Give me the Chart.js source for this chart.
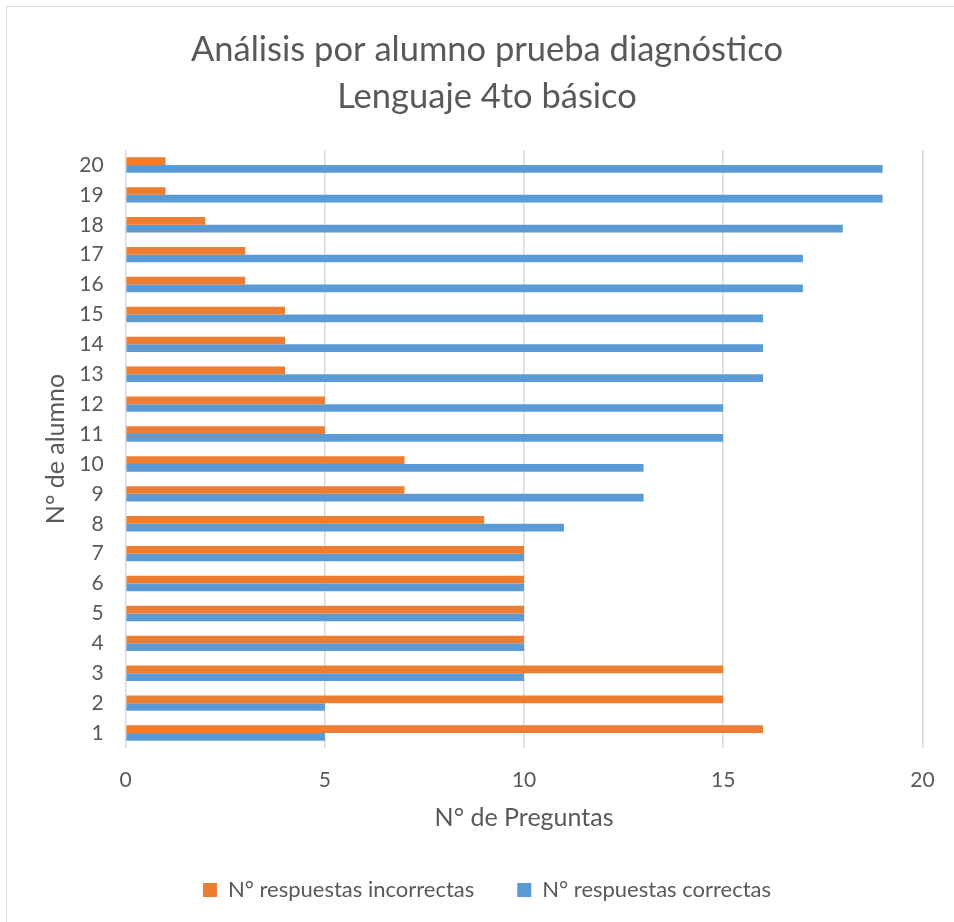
<!DOCTYPE html>
<html>
<head>
<meta charset="utf-8">
<script src="https://cdn.jsdelivr.net/npm/chart.js@4"></script>
<style>
  html, body { margin: 0; padding: 0; background: #ffffff; }
  #wrap { position: relative; width: 954px; height: 922px; overflow: hidden; }
  #frame { position: absolute; left: 6px; top: 6px; width: 980px; height: 960px;
           border-left: 1px solid #D9D9D9; border-top: 1px solid #D9D9D9; box-sizing: border-box; }
  canvas { position: absolute; left: 0; top: 0; }
</style>
</head>
<body>
<div id="wrap">
  <div id="frame"></div>
  <canvas id="chart" width="954" height="922"></canvas>
</div>
<script>
// Student numbers (y categories) and the answer counts per student
const alumnos = ['1','2','3','4','5','6','7','8','9','10','11','12','13','14','15','16','17','18','19','20'];
const incorrectas = [16, 15, 15, 10, 10, 10, 10, 9, 7, 7, 5, 5, 4, 4, 4, 3, 3, 2, 1, 1];
const correctas   = [5, 5, 10, 10, 10, 10, 10, 11, 13, 13, 15, 15, 16, 16, 16, 17, 17, 18, 19, 19];

const seriesNames = ['N° respuestas incorrectas', 'N° respuestas correctas'];
const titleLines = ['Análisis por alumno prueba diagnóstico', 'Lenguaje 4to básico'];
const xTitle = 'N° de Preguntas';
const yTitle = 'N° de alumno';

const TEXT = '#595959';
const FONT = 'Lato, "Noto Sans", sans-serif';

new Chart(document.getElementById('chart'), {
  type: 'bar',
  data: {
    labels: alumnos,
    datasets: [
      { label: seriesNames[0], data: incorrectas, backgroundColor: '#ED7D31', borderWidth: 0 },
      { label: seriesNames[1], data: correctas, backgroundColor: '#5B9BD5', borderWidth: 0 }
    ]
  },
  options: {
    indexAxis: 'y',
    responsive: false,
    animation: false,
    categoryPercentage: 0.515,
    barPercentage: 1.0,
    layout: { padding: { left: 50, right: 30, top: 0, bottom: 11 } },
    plugins: {
      tooltip: { enabled: false },
      title: {
        display: true,
        text: titleLines,
        color: TEXT,
        font: { family: FONT, size: 34.5, weight: 'normal', lineHeight: 47 / 34.5 },
        padding: { top: 26.5, bottom: 29.5 }
      },
      legend: {
        position: 'bottom',
        labels: {
          color: TEXT,
          font: { family: FONT, size: 22 },
          boxWidth: 14,
          boxHeight: 14,
          padding: 43
        }
      }
    },
    scales: {
      x: {
        type: 'linear',
        min: 0,
        max: 20,
        ticks: { stepSize: 5, color: TEXT, font: { family: FONT, size: 21 }, padding: 19.4 },
        grid: { color: '#D9D9D9', lineWidth: 1.5, drawTicks: false },
        border: { display: false },
        title: {
          display: true,
          text: xTitle,
          color: TEXT,
          font: { family: FONT, size: 25, lineHeight: 1.2 },
          padding: { top: 0, bottom: 3 }
        },
        afterFit: (scale) => { scale.height = 88; }
      },
      y: {
        reverse: true,
        ticks: { color: TEXT, font: { family: FONT, size: 21 }, padding: 22 },
        grid: { display: false, drawTicks: false },
        border: { display: false },
        title: {
          display: true,
          text: yTitle,
          color: TEXT,
          font: { family: FONT, size: 25, lineHeight: 1.2 },
          padding: { top: -9, bottom: 0 }
        },
        afterFit: (scale) => { scale.width = 75.7; }
      }
    }
  }
});
</script>
</body>
</html>
